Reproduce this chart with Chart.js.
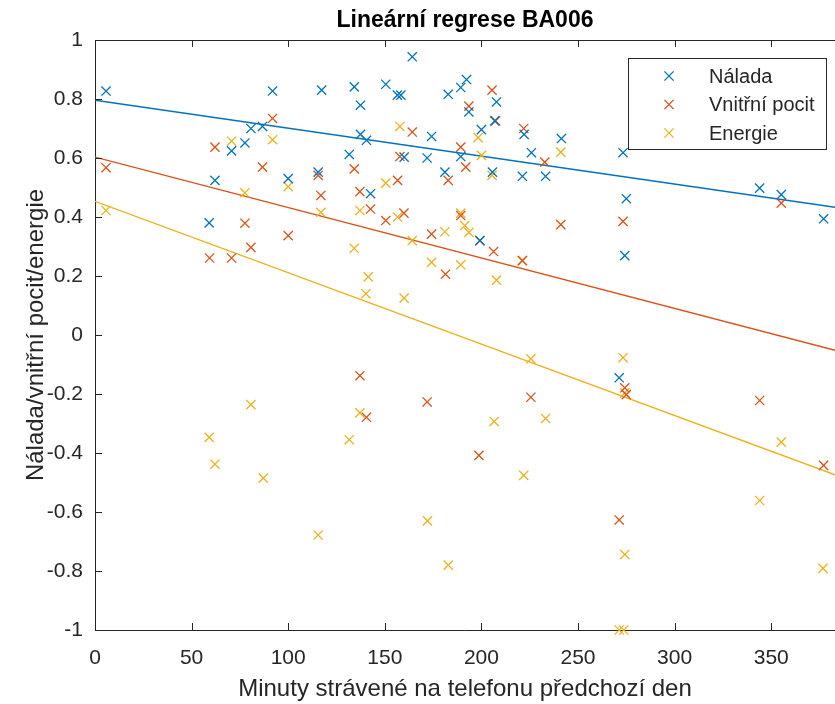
<!DOCTYPE html>
<html lang="cs">
<head>
<meta charset="utf-8">
<title>Lineární regrese BA006</title>
<script src="https://cdn.jsdelivr.net/npm/chart.js@4.4.1/dist/chart.umd.min.js"></script>
<style>
  html, body { margin: 0; padding: 0; background: #fff; }
  #graf { display: block; }
</style>
</head>
<body>
<canvas id="graf" width="835" height="704"></canvas>
<script>
// ======== DONNÉES ========

// Nálada : minuty na telefonu / hodnota
const naladaMin = [5.7, 59.1, 62.1, 70.7, 77.6, 80.7, 86.7, 91.9, 100.0, 115.5, 117.3, 131.6,
  134.2, 137.4, 137.4, 140.5, 142.6, 150.5, 156.5, 158.3, 160.0, 164.2, 171.9, 174.2,
  181.1, 182.8, 189.3, 189.3, 192.3, 193.5, 199.2, 200.0, 205.7, 206.9, 207.8, 221.2,
  222.1, 225.9, 233.2, 241.4, 271.3, 273.3, 274.2, 275.0, 344.0, 355.2, 377.1];
const naladaVal = [0.827, 0.38, 0.524, 0.624, 0.651, 0.70, 0.707, 0.827, 0.53, 0.552, 0.830, 0.612,
  0.841, 0.779, 0.68, 0.66, 0.479, 0.850, 0.813, 0.813, 0.603, 0.943, 0.600, 0.673,
  0.552, 0.816, 0.839, 0.605, 0.866, 0.756, 0.32, 0.696, 0.552, 0.726, 0.790, 0.538,
  0.680, 0.618, 0.538, 0.666, -0.145, 0.618, 0.269, 0.462, 0.498, 0.476, 0.394];

// Vnitřní pocit
const pocitMin = [5.7, 59.3, 62.1, 70.7, 77.6, 80.7, 86.7, 91.9, 100.0, 115.5, 116.9, 134.2,
  137.1, 137.1, 140.5, 142.6, 150.5, 156.6, 157.8, 159.9, 164.2, 171.9, 174.2, 181.4,
  182.8, 189.3, 189.3, 191.9, 193.5, 198.7, 199.2, 205.5, 206.3, 207.3, 221.2, 221.9,
  225.6, 232.8, 241.1, 271.3, 273.3, 274.2, 275.0, 344.0, 355.2, 377.1];
const pocitVal = [0.567, 0.261, 0.637, 0.261, 0.379, 0.297, 0.569, 0.734, 0.337, 0.541, 0.473, 0.563,
  0.486, -0.138, -0.279, 0.427, 0.388, 0.524, 0.605, 0.413, 0.688, -0.227, 0.342, 0.206,
  0.524, 0.637, 0.405, 0.569, 0.776, -0.408, 0.32, 0.830, 0.283, 0.726, 0.252, 0.700,
  -0.211, 0.586, 0.374, -0.627, 0.385, -0.179, -0.202, -0.222, 0.447, -0.442];

// Energie
const energieMin = [5.7, 59.1, 62.1, 70.7, 77.6, 80.7, 87.1, 91.9, 100.0, 115.5, 116.9, 131.6,
  134.2, 137.1, 137.1, 140.2, 141.4, 150.5, 156.6, 157.8, 160.0, 164.2, 172.1, 174.2,
  181.1, 182.8, 189.3, 189.3, 191.4, 193.5, 198.3, 200.0, 205.5, 206.6, 207.8, 221.2,
  221.9, 225.6, 233.2, 241.1, 271.3, 273.3, 273.7, 274.2, 274.2, 344.0, 355.2, 376.8];
const energieVal = [0.422, -0.347, -0.438, 0.657, 0.482, -0.236, -0.485, 0.662, 0.503, -0.678, 0.416, -0.355,
  0.294, 0.422, -0.264, 0.14, 0.197, 0.515, 0.40, 0.707, 0.125, 0.32, -0.63, 0.246,
  0.35, -0.78, 0.413, 0.238, 0.371, 0.348, 0.669, 0.609, 0.541, -0.293, 0.186, 0.252,
  -0.476, -0.081, -0.283, 0.62, -1.0, -0.077, -1.0, -0.744, -0.196, -0.561, -0.363, -0.791];

// Regresní přímky (hodnoty na okrajích osy x)
const trendMin = [0, 383];
const naladaTrend = [0.796, 0.433];
const pocitTrend = [0.603, -0.052];
const energieTrend = [0.453, -0.474];

// Popisky os
const xTicks = [0, 50, 100, 150, 200, 250, 300, 350];
const yTicks = [-1, -0.8, -0.6, -0.4, -0.2, 0, 0.2, 0.4, 0.6, 0.8, 1];

const seriesNames = ['Nálada', 'Vnitřní pocit', 'Energie'];

// ======== STYLE ========
const colors = ['#0072BD', '#D95319', '#EDB120'];
const axisColor = '#262626';
const fontFamily = "'Liberation Sans', Arial, Helvetica, sans-serif";

function toPoints(xs, ys) {
  return xs.map((x, i) => ({ x: x, y: ys[i] }));
}

function scatterSet(label, xs, ys, color) {
  return {
    type: 'scatter',
    label: label,
    data: toPoints(xs, ys),
    pointStyle: 'crossRot',
    pointRadius: 6.5,
    pointHoverRadius: 6.5,
    borderWidth: 1.3,
    borderColor: color,
    backgroundColor: color,
    clip: false
  };
}

function trendSet(ys, color) {
  return {
    type: 'line',
    data: toPoints(trendMin, ys),
    borderColor: color,
    borderWidth: 1.4,
    pointRadius: 0,
    fill: false
  };
}

// Rámeček, vnitřní značky, nadpis a legenda ve stylu MATLABu
const matlabAxes = {
  id: 'matlabAxes',
  afterDatasetsDraw(chart) {
    const ctx = chart.ctx;
    const area = chart.chartArea;
    const xs = chart.scales.x;
    const ys = chart.scales.y;
    const tick = 7;

    ctx.save();
    ctx.strokeStyle = axisColor;
    ctx.lineWidth = 1;

    // horní okraj
    ctx.beginPath();
    ctx.moveTo(area.left, area.top + 0.5);
    ctx.lineTo(area.right, area.top + 0.5);
    ctx.stroke();

    // značky dovnitř
    ctx.beginPath();
    xTicks.forEach(v => {
      const px = Math.round(xs.getPixelForValue(v)) + 0.5;
      ctx.moveTo(px, area.bottom);
      ctx.lineTo(px, area.bottom - tick);
      ctx.moveTo(px, area.top);
      ctx.lineTo(px, area.top + tick);
    });
    yTicks.forEach(v => {
      const py = Math.round(ys.getPixelForValue(v)) + 0.5;
      ctx.moveTo(area.left, py);
      ctx.lineTo(area.left + tick, py);
    });
    ctx.stroke();

    // nadpis
    ctx.fillStyle = '#000';
    ctx.font = 'bold 23px ' + fontFamily;
    ctx.textAlign = 'center';
    ctx.textBaseline = 'middle';
    ctx.fillText('Lineární regrese BA006', (area.left + area.right) / 2, 21);

    // legenda
    const box = { x: area.right - 207, y: area.top + 18, w: 198, h: 91 };
    ctx.fillStyle = '#fff';
    ctx.fillRect(box.x, box.y, box.w, box.h);
    ctx.strokeStyle = axisColor;
    ctx.strokeRect(box.x + 0.5, box.y + 0.5, box.w, box.h);

    ctx.font = '20px ' + fontFamily;
    ctx.textAlign = 'left';
    seriesNames.forEach((name, i) => {
      const rowY = box.y + 18 + i * 28.5;
      const mx = box.x + 41;
      const r = 4.6;
      ctx.strokeStyle = colors[i];
      ctx.lineWidth = 1.3;
      ctx.beginPath();
      ctx.moveTo(mx - r, rowY - r);
      ctx.lineTo(mx + r, rowY + r);
      ctx.moveTo(mx - r, rowY + r);
      ctx.lineTo(mx + r, rowY - r);
      ctx.stroke();
      ctx.fillStyle = axisColor;
      ctx.fillText(name, box.x + 81, rowY + 1);
    });
    ctx.restore();
  }
};

function initChart() {
  const ctx = document.getElementById('graf').getContext('2d');

  new Chart(ctx, {
    type: 'scatter',
    data: {
      datasets: [
        scatterSet(seriesNames[0], naladaMin, naladaVal, colors[0]),
        scatterSet(seriesNames[1], pocitMin, pocitVal, colors[1]),
        scatterSet(seriesNames[2], energieMin, energieVal, colors[2]),
        trendSet(naladaTrend, colors[0]),
        trendSet(pocitTrend, colors[1]),
        trendSet(energieTrend, colors[2])
      ]
    },
    options: {
      responsive: false,
      animation: false,
      devicePixelRatio: 1,
      layout: {
        autoPadding: false,
        padding: { top: 40, right: 0, bottom: 0, left: 0 }
      },
      plugins: {
        legend: { display: false },
        tooltip: { enabled: false },
        title: { display: false }
      },
      scales: {
        x: {
          type: 'linear',
          position: 'bottom',
          min: trendMin[0],
          max: trendMin[1],
          grid: { display: false, drawTicks: false },
          border: { display: true, color: axisColor, width: 1 },
          afterBuildTicks: scale => { scale.ticks = xTicks.map(v => ({ value: v })); },
          afterFit: scale => {
            scale.height = 74;
            scale.paddingLeft = 0;
            scale.paddingRight = 0;
          },
          ticks: {
            autoSkip: false,
            maxRotation: 0,
            color: axisColor,
            padding: 16,
            font: { family: fontFamily, size: 21 }
          },
          title: {
            display: true,
            text: 'Minuty strávené na telefonu předchozí den',
            color: axisColor,
            padding: { top: 0, bottom: 0 },
            font: { family: fontFamily, size: 24 }
          }
        },
        y: {
          type: 'linear',
          position: 'left',
          min: -1,
          max: 1,
          grid: { display: false, drawTicks: false },
          border: { display: true, color: axisColor, width: 1 },
          afterBuildTicks: scale => { scale.ticks = yTicks.map(v => ({ value: v })); },
          afterFit: scale => { scale.width = 95; },
          ticks: {
            autoSkip: false,
            color: axisColor,
            padding: 12,
            font: { family: fontFamily, size: 21 },
            callback: v => String(Number(v.toFixed(1)))
          },
          title: {
            display: true,
            text: 'Nálada/vnitřní pocit/energie',
            color: axisColor,
            padding: { top: 22, bottom: 0 },
            font: { family: fontFamily, size: 24 }
          }
        }
      }
    },
    plugins: [matlabAxes]
  });
}

window.addEventListener('DOMContentLoaded', initChart);
</script>
</body>
</html>
